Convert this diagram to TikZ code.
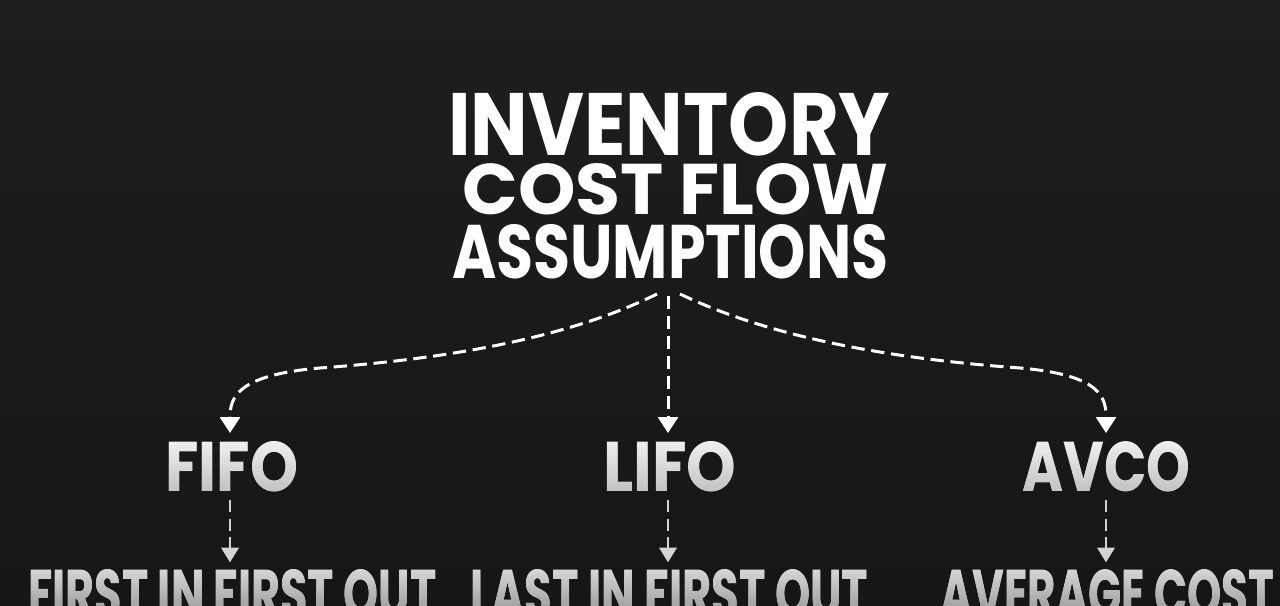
\documentclass[tikz,border=0pt]{standalone}
\usepackage{fontspec}
\newfontfamily\pop{Poppins}
\usetikzlibrary{arrows.meta}
\definecolor{bgtop}{HTML}{1E1E1E}
\definecolor{bgbot}{HTML}{161616}
\definecolor{lite}{HTML}{D4D4D4}
\tikzset{
  ttl/.style={anchor=north west, inner sep=0pt, text=white, font=\pop\bfseries},
  sub/.style={anchor=north west, inner sep=0pt, text=white, font=\pop\bfseries},
  conn/.style={draw=white, line width=2.25pt, dash pattern=on 10pt off 5pt,
    -{Triangle[width=15pt,length=12pt]}},
  conn2/.style={draw=lite, line width=1.9pt, dash pattern=on 9pt off 5pt,
    -{Triangle[width=13pt,length=11pt]}},
}
\begin{document}
\begin{tikzpicture}[x=0.75pt,y=-0.75pt]
\shade[top color=bgtop, bottom color=bgbot] (0,0) rectangle (1280,606);
\useasboundingbox (0,0) rectangle (1280,606);
\node[ttl] (t) at (448,92) {\vbox{\offinterlineskip
  \hbox to 331.5pt{\resizebox{331.5pt}{47.25pt}{INVENTORY}\hss}\kern6pt
  \hbox to 331.5pt{\hskip10.5pt\resizebox{319.5pt}{38.25pt}{COST FLOW}\hss}\kern6.75pt
  \hbox to 331.5pt{\hskip3pt\resizebox{327pt}{40.5pt}{ASSUMPTIONS}\hss}}};
\node[sub] (fifo) at (165,441) {\resizebox{99.75pt}{37.5pt}{FIFO}};
\node[sub] (lifo) at (603,441) {\resizebox{99.75pt}{37.5pt}{LIFO}};
\node[sub] (avco) at (1022,441) {\resizebox{126pt}{37.5pt}{AVCO}};
\node[sub] (fifofull) at (28,569) {\resizebox{306pt}{36pt}{FIRST IN FIRST OUT}};
\node[sub] (lifofull) at (470,569) {\resizebox{298.5pt}{36pt}{LAST IN FIRST OUT}};
\node[sub] (avcofull) at (940,569) {\resizebox{250.5pt}{36pt}{AVERAGE COST}};
% vertical gradient on the lower texts
\begin{scope}[blend mode=darken]
  \shade[top color=white!94!black, bottom color=white!76!black] (0,441) rectangle (1280,492);
  \shade[top color=white!84!black, bottom color=white!64!black] (0,569) rectangle (1280,606);
\end{scope}
\coordinate (sl) at (657,294);
\coordinate (sm) at (668,296);
\coordinate (sr) at (680,294);
\coordinate (el) at (230,433);
\coordinate (em) at (668,433);
\coordinate (er) at (1106,433);
\draw[conn] (sm) -- (em);
\draw[conn] (sl) .. controls (560,342) and (430,360) .. (320,368)
  .. controls (236,375) and (230,398) .. (el);
\draw[conn] (sr) .. controls (780,342) and (910,360) .. (1020,368)
  .. controls (1102,375) and (1106,398) .. (er);
\draw[conn2] ([yshift=-6pt]fifo.south -| el) -- ([yshift=5pt]fifofull.north -| el);
\draw[conn2] ([yshift=-6pt]lifo.south -| em) -- ([yshift=5pt]lifofull.north -| em);
\draw[conn2] ([yshift=-6pt]avco.south -| er) -- ([yshift=5pt]avcofull.north -| er);
\end{tikzpicture}
\end{document}
